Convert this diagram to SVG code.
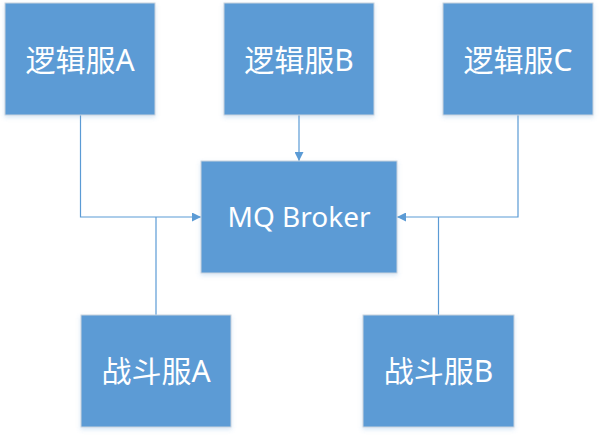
<svg xmlns="http://www.w3.org/2000/svg" width="599" height="436" viewBox="0 0 599 436">
  <style>
    .box { fill: #5B9BD5; stroke: #C9D3DE; stroke-width: 1; filter: url(#sh); }
    .lbl { fill: #FFFFFF; font-family: "Noto Sans", "Noto Sans CJK SC", sans-serif; font-size: 28px; text-anchor: middle; dominant-baseline: central; }
    .cjk { font-size: 30px; }
    .conn { fill: none; stroke: #5B9BD5; stroke-width: 1.2; }
  </style>
  <defs>
    <filter id="sh" x="-10%" y="-10%" width="120%" height="125%">
      <feDropShadow dx="0" dy="2" stdDeviation="2" flood-color="#5B9BD5" flood-opacity="0.25"/>
    </filter>
    <marker id="arr" viewBox="0 0 10 10" refX="10" refY="5" markerWidth="9" markerHeight="9" markerUnits="userSpaceOnUse" orient="auto">
      <path d="M0,0 L10,5 L0,10 Z" fill="#5B9BD5"/>
    </marker>
  </defs>
  <rect width="599" height="436" fill="#FFFFFF"/>
  <g id="connectors">
    <path class="conn" d="M80.5,115 V217 H201" marker-end="url(#arr)"/>
    <path class="conn" d="M156,315 V217"/>
    <path class="conn" d="M299,115 V161" marker-end="url(#arr)"/>
    <path class="conn" d="M518,115 V217 H397" marker-end="url(#arr)"/>
    <path class="conn" d="M438.5,315 V217"/>
  </g>
  <g id="logicA">
    <rect class="box" x="5" y="3" width="150" height="112"/>
    <text class="lbl cjk" x="80" y="59">逻辑服A</text>
  </g>
  <g id="logicB">
    <rect class="box" x="224" y="3" width="150" height="112"/>
    <text class="lbl cjk" x="299" y="59">逻辑服B</text>
  </g>
  <g id="logicC">
    <rect class="box" x="443" y="3" width="150" height="112"/>
    <text class="lbl cjk" x="518" y="59">逻辑服C</text>
  </g>
  <g id="broker">
    <rect class="box" x="201" y="161" width="196" height="112"/>
    <text class="lbl" x="299" y="216">MQ Broker</text>
  </g>
  <g id="battleA">
    <rect class="box" x="81" y="315" width="150" height="112"/>
    <text class="lbl cjk" x="156" y="370">战斗服A</text>
  </g>
  <g id="battleB">
    <rect class="box" x="363" y="315" width="151" height="112"/>
    <text class="lbl cjk" x="438.5" y="370">战斗服B</text>
  </g>
</svg>
